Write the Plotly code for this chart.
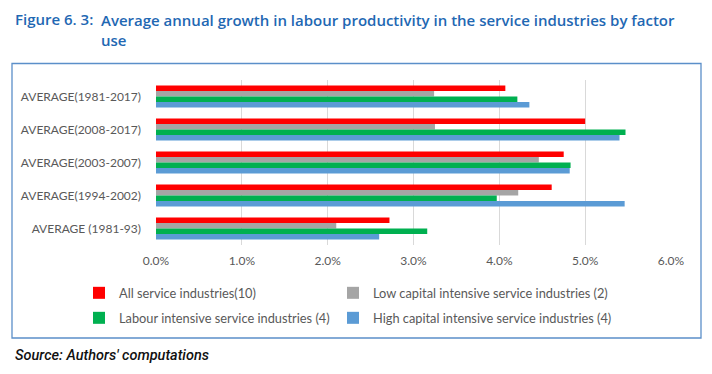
import plotly.graph_objects as go

categories = ["AVERAGE(1981-2017)", "AVERAGE(2008-2017)", "AVERAGE(2003-2007)",
              "AVERAGE(1994-2002)", "AVERAGE (1981-93)"]
all_services = [0.0407, 0.0500, 0.0475, 0.0461, 0.0272]
low_capital = [0.0324, 0.0325, 0.0446, 0.0422, 0.0210]
labour_int = [0.0421, 0.0547, 0.0483, 0.0397, 0.0316]
high_capital = [0.0435, 0.0540, 0.0482, 0.0546, 0.0260]
x_ticks = [0, 0.01, 0.02, 0.03, 0.04, 0.05, 0.06]

series = [
    ("All service industries(10)", all_services, "#ff0000", "legend"),
    ("Low capital intensive service industries (2)", low_capital, "#a5a5a5", "legend2"),
    ("Labour intensive service industries (4)", labour_int, "#00b050", "legend3"),
    ("High capital intensive service industries (4)", high_capital, "#5b9bd5", "legend4"),
]

W, H = 712, 374
L, R, T, B = 156, 41, 80, 129
pw, ph = W - L - R, H - T - B

def px(x):
    return (x - L) / pw

def py(y):
    return (H - B - y) / ph

fig = go.Figure()
for name, vals, color, leg in series:
    fig.add_trace(go.Bar(y=categories, x=vals, name=name, orientation="h",
                         marker=dict(color=color, line=dict(width=0)),
                         legend=leg))

lab_font = dict(family="Lato", size=12, color="#595959")
leg_font = dict(family="Lato", size=12.8, color="#595959")

def leg(xpix, ypix):
    return dict(orientation="h", x=px(xpix), xanchor="left", y=py(ypix), yanchor="middle",
                font=leg_font, bgcolor="rgba(0,0,0,0)", borderwidth=0, itemclick=False)

fig.update_layout(
    width=W, height=H,
    margin=dict(l=L, r=R, t=T, b=B, autoexpand=False),
    paper_bgcolor="white", plot_bgcolor="white",
    barmode="group", bargap=0.33, bargroupgap=0,
    font=lab_font,
    xaxis=dict(range=[0, 0.06], tickvals=x_ticks, tickformat=".1%",
               showgrid=True, gridcolor="#d9d9d9", gridwidth=1,
               zeroline=False, showline=False, ticks="",
               ticklabelstandoff=7, tickfont=lab_font, automargin=False),
    yaxis=dict(autorange="reversed", showgrid=False, zeroline=False,
               showline=False, ticks="", ticklabelstandoff=14, tickfont=lab_font,
               automargin=False),
    legend=leg(79, 293),
    legend2=leg(333, 293),
    legend3=leg(79, 318),
    legend4=leg(333, 318),
    showlegend=True,
)

fig.add_shape(type="rect", xref="paper", yref="paper",
              x0=px(12), x1=px(701), y0=py(338), y1=py(63.5),
              line=dict(color="#5b8fc9", width=1.3), fillcolor="rgba(0,0,0,0)", layer="below")

title_font = dict(family="Open Sans", size=15, color="#1f68b3", weight=600)
fig.add_annotation(xref="paper", yref="paper", x=px(13), y=py(19), xanchor="left",
                   yanchor="middle", text="Figure 6. 3:", showarrow=False, font=title_font)
fig.add_annotation(xref="paper", yref="paper", x=px(99), y=py(19), xanchor="left",
                   yanchor="top", yshift=11, align="left",
                   text="Average annual growth in labour productivity in the service industries by factor<br>use",
                   showarrow=False, font=title_font)
fig.add_annotation(xref="paper", yref="paper", x=px(13), y=py(355), xanchor="left",
                   yanchor="middle", text="<i>Source: Authors' computations</i>", showarrow=False,
                   font=dict(family="Roboto", size=14.5, color="#111111", weight=500))

fig.write_html("out.html", config={"displayModeBar": False},
               post_script="document.body.style.margin='0px';")
